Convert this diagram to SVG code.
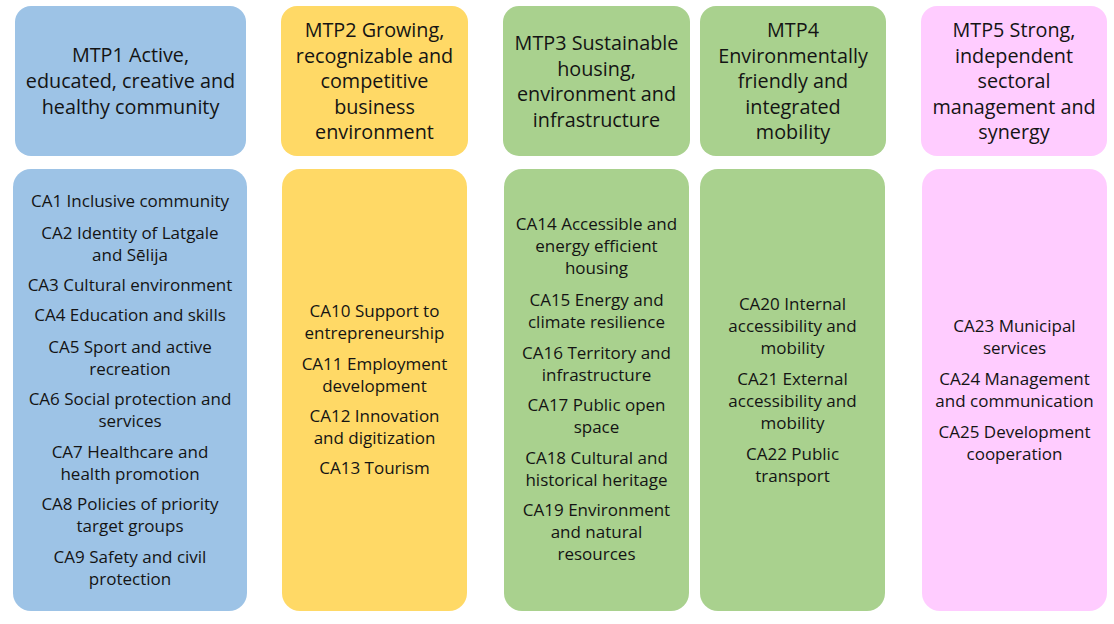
<svg xmlns="http://www.w3.org/2000/svg" width="1114" height="624" viewBox="0 0 1114 624">
<style>
.blue{fill:#9dc3e6}.yellow{fill:#ffd966}.green{fill:#a9d18e}.pink{fill:#ffccff}
text{font-family:"Open Sans","Noto Sans","Liberation Sans",sans-serif;fill:#141414;text-anchor:middle}
.h{font-size:19.8px}.c{font-size:17px}
</style>
<rect width="1114" height="624" fill="#ffffff"/>
<g id="connectors"></g>
<g id="mtp1"><rect class="blue" x="15" y="6" width="231" height="150" rx="16"/>
<text class="h"><tspan x="130.5" y="62">MTP1 Active,</tspan><tspan x="130.5" y="88">educated, creative and</tspan><tspan x="130.5" y="114">healthy community</tspan></text></g>
<g id="mtp2"><rect class="yellow" x="281" y="6" width="187" height="150" rx="16"/>
<text class="h"><tspan x="374.5" y="37">MTP2 Growing,</tspan><tspan x="374.5" y="63">recognizable and</tspan><tspan x="374.5" y="88">competitive</tspan><tspan x="374.5" y="114">business</tspan><tspan x="374.5" y="139">environment</tspan></text></g>
<g id="mtp3"><rect class="green" x="503" y="6" width="187" height="150" rx="16"/>
<text class="h"><tspan x="596.5" y="50">MTP3 Sustainable</tspan><tspan x="596.5" y="76">housing,</tspan><tspan x="596.5" y="101">environment and</tspan><tspan x="596.5" y="127">infrastructure</tspan></text></g>
<g id="mtp4"><rect class="green" x="700" y="6" width="186" height="150" rx="16"/>
<text class="h"><tspan x="793" y="37">MTP4</tspan><tspan x="793" y="63">Environmentally</tspan><tspan x="793" y="88">friendly and</tspan><tspan x="793" y="114">integrated</tspan><tspan x="793" y="139">mobility</tspan></text></g>
<g id="mtp5"><rect class="pink" x="921" y="6" width="186" height="150" rx="16"/>
<text class="h"><tspan x="1014" y="37">MTP5 Strong,</tspan><tspan x="1014" y="63">independent</tspan><tspan x="1014" y="88">sectoral</tspan><tspan x="1014" y="114">management and</tspan><tspan x="1014" y="139">synergy</tspan></text></g>
<g id="ca-col1"><rect class="blue" x="13" y="169" width="234" height="442" rx="18"/>
<text class="c"><tspan x="130" y="207">CA1 Inclusive community</tspan><tspan x="130" y="239">CA2 Identity of Latgale</tspan><tspan x="130" y="261">and Sēlija</tspan><tspan x="130" y="291">CA3 Cultural environment</tspan><tspan x="130" y="321">CA4 Education and skills</tspan><tspan x="130" y="353">CA5 Sport and active</tspan><tspan x="130" y="375">recreation</tspan><tspan x="130" y="405">CA6 Social protection and</tspan><tspan x="130" y="427">services</tspan><tspan x="130" y="458">CA7 Healthcare and</tspan><tspan x="130" y="480">health promotion</tspan><tspan x="130" y="510">CA8 Policies of priority</tspan><tspan x="130" y="532">target groups</tspan><tspan x="130" y="563">CA9 Safety and civil</tspan><tspan x="130" y="585">protection</tspan></text></g>
<g id="ca-col2"><rect class="yellow" x="282" y="169" width="185" height="442" rx="18"/>
<text class="c"><tspan x="374.5" y="317">CA10 Support to</tspan><tspan x="374.5" y="339">entrepreneurship</tspan><tspan x="374.5" y="370">CA11 Employment</tspan><tspan x="374.5" y="392">development</tspan><tspan x="374.5" y="422">CA12 Innovation</tspan><tspan x="374.5" y="444">and digitization</tspan><tspan x="374.5" y="474">CA13 Tourism</tspan></text></g>
<g id="ca-col3"><rect class="green" x="504" y="169" width="185" height="442" rx="18"/>
<text class="c"><tspan x="596.5" y="230">CA14 Accessible and</tspan><tspan x="596.5" y="252">energy efficient</tspan><tspan x="596.5" y="274">housing</tspan><tspan x="596.5" y="306">CA15 Energy and</tspan><tspan x="596.5" y="328">climate resilience</tspan><tspan x="596.5" y="359">CA16 Territory and</tspan><tspan x="596.5" y="381">infrastructure</tspan><tspan x="596.5" y="411">CA17 Public open</tspan><tspan x="596.5" y="433">space</tspan><tspan x="596.5" y="464">CA18 Cultural and</tspan><tspan x="596.5" y="486">historical heritage</tspan><tspan x="596.5" y="516">CA19 Environment</tspan><tspan x="596.5" y="538">and natural</tspan><tspan x="596.5" y="560">resources</tspan></text></g>
<g id="ca-col4"><rect class="green" x="700" y="169" width="185" height="442" rx="18"/>
<text class="c"><tspan x="792.5" y="310">CA20 Internal</tspan><tspan x="792.5" y="332">accessibility and</tspan><tspan x="792.5" y="354">mobility</tspan><tspan x="792.5" y="385">CA21 External</tspan><tspan x="792.5" y="407">accessibility and</tspan><tspan x="792.5" y="429">mobility</tspan><tspan x="792.5" y="460">CA22 Public</tspan><tspan x="792.5" y="482">transport</tspan></text></g>
<g id="ca-col5"><rect class="pink" x="922" y="169" width="185" height="442" rx="18"/>
<text class="c"><tspan x="1014.5" y="332">CA23 Municipal</tspan><tspan x="1014.5" y="354">services</tspan><tspan x="1014.5" y="385">CA24 Management</tspan><tspan x="1014.5" y="407">and communication</tspan><tspan x="1014.5" y="438">CA25 Development</tspan><tspan x="1014.5" y="460">cooperation</tspan></text></g>
</svg>
